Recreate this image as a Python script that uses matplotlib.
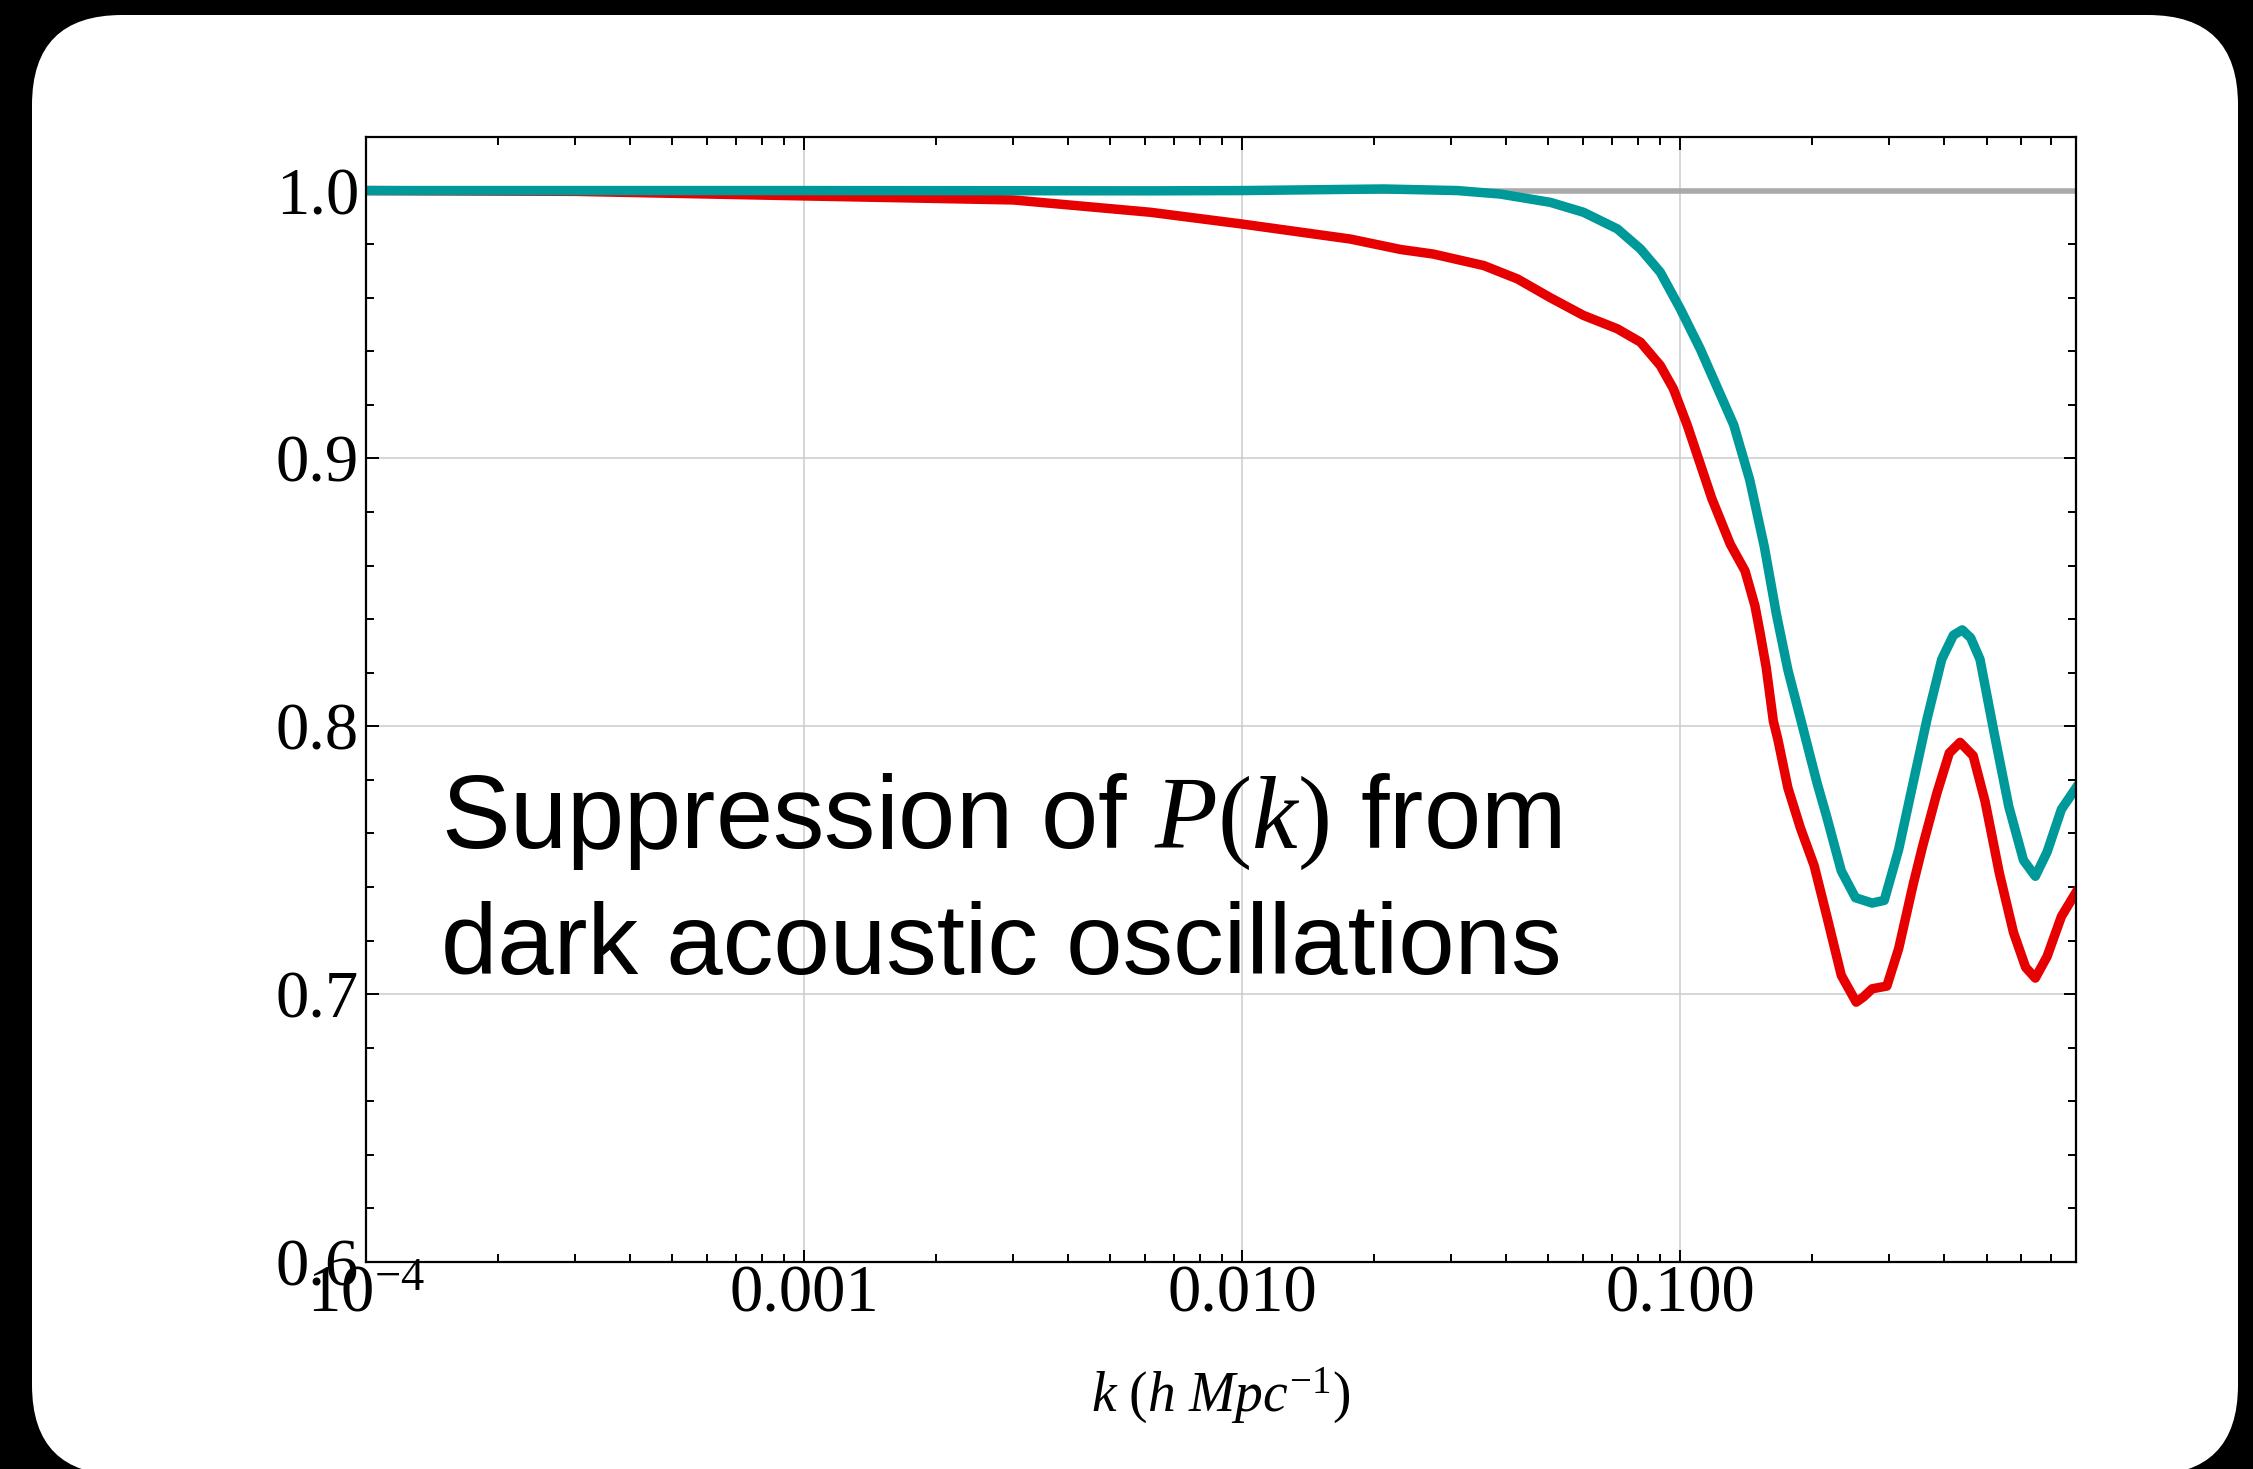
import numpy as np
import matplotlib.pyplot as plt
from matplotlib.patches import FancyBboxPatch
from matplotlib.ticker import LogLocator, MultipleLocator, NullFormatter, FixedLocator

plt.rcParams['mathtext.fontset'] = 'custom'
plt.rcParams['mathtext.rm'] = 'Liberation Serif'
plt.rcParams['mathtext.it'] = 'Liberation Serif:italic'

# values
k_teal = [1e-4, 1e-3, 0.00617, 0.01, 0.021, 0.031, 0.0388, 0.0505, 0.0601, 0.0718,
          0.0811, 0.090, 0.1, 0.111, 0.1324, 0.144, 0.1555, 0.1656, 0.176, 0.19, 0.205,
          0.216, 0.233, 0.251, 0.274, 0.292, 0.315, 0.34, 0.366, 0.395, 0.42, 0.44,
          0.46, 0.483, 0.521, 0.562, 0.607, 0.646, 0.687, 0.741, 0.8]
p_teal = [1.0, 1.0, 0.9999, 1.0, 1.0006, 1.0, 0.9987, 0.9956, 0.9919, 0.9857,
          0.9782, 0.9695, 0.9558, 0.9409, 0.9125, 0.892, 0.867, 0.842, 0.821, 0.800, 0.779,
          0.766, 0.746, 0.736, 0.734, 0.735, 0.754, 0.779, 0.803, 0.825, 0.834, 0.836,
          0.833, 0.825, 0.797, 0.770, 0.750, 0.744, 0.753, 0.769, 0.777]

k_red = [1e-4, 3e-4, 1e-3, 0.003, 0.00617, 0.01, 0.01766, 0.023, 0.0273, 0.0356, 0.0425,
         0.0505, 0.0601, 0.0718, 0.0811, 0.090, 0.0964, 0.1037, 0.118, 0.130,
         0.1405, 0.148, 0.152, 0.157, 0.163, 0.167, 0.176, 0.188, 0.202, 0.216, 0.233,
         0.252, 0.262, 0.274, 0.296, 0.315, 0.34, 0.357, 0.385, 0.411, 0.435, 0.466,
         0.496, 0.535, 0.576, 0.614, 0.646, 0.687, 0.741, 0.8]
p_red = [1.0, 0.9997, 0.998, 0.9965, 0.9919, 0.9875, 0.9819, 0.978, 0.9763, 0.972, 0.967,
         0.960, 0.9534, 0.9484, 0.9434, 0.9347, 0.926, 0.9124, 0.885, 0.868,
         0.858, 0.845, 0.835, 0.822, 0.802, 0.795, 0.777, 0.762, 0.748, 0.729, 0.707,
         0.697, 0.699, 0.702, 0.703, 0.717, 0.741, 0.755, 0.775, 0.790, 0.794, 0.789,
         0.772, 0.745, 0.723, 0.710, 0.706, 0.714, 0.729, 0.738]

xticks = [1e-4, 1e-3, 1e-2, 1e-1]
xticklabels = [r'$\mathregular{10^{-4}}$', '0.001', '0.010', '0.100']
yticks = [0.6, 0.7, 0.8, 0.9, 1.0]
yticklabels = ['0.6', '0.7', '0.8', '0.9', '1.0']

W, H = 2253, 1469
fig = plt.figure(figsize=(W / 100, H / 100), dpi=100, facecolor='black')

# white rounded card on black
bg = fig.add_axes([0, 0, 1, 1], zorder=0)
bg.set_xlim(0, W)
bg.set_ylim(H, 0)
bg.axis('off')
bg.add_patch(FancyBboxPatch((32, 15), 2206, 1460, boxstyle='round,pad=0,rounding_size=90',
                            facecolor='white', edgecolor='none'))

ax = fig.add_axes([366 / W, (H - 1262) / H, 1710 / W, 1125 / H], zorder=1)
ax.set_xscale('log')
ax.set_xlim(1e-4, 0.8)
ax.set_ylim(0.6, 1.02)

ax.xaxis.set_major_locator(FixedLocator(xticks))
ax.set_xticklabels(xticklabels)
ax.xaxis.set_minor_locator(LogLocator(base=10, subs=np.arange(2, 10)))
ax.xaxis.set_minor_formatter(NullFormatter())
ax.set_yticks(yticks)
ax.set_yticklabels(yticklabels)
ax.yaxis.set_minor_locator(MultipleLocator(0.02))

ax.tick_params(which='both', direction='in', top=True, right=True, width=1.4, color='black')
ax.tick_params(which='major', length=9)
ax.tick_params(which='minor', length=5.5)
ax.tick_params(axis='x', pad=2)
ax.tick_params(axis='y', pad=5)
for lab in ax.get_xticklabels() + ax.get_yticklabels():
    lab.set_fontfamily('Liberation Serif')
    lab.set_fontsize(48)
for s in ax.spines.values():
    s.set_linewidth(1.6)

ax.grid(which='major', color='#cccccc', linewidth=1.1)
ax.set_axisbelow(True)

ax.axhline(1.0, color='#aaaaaa', linewidth=4)
ax.plot(k_red, p_red, color='#e60000', linewidth=6.8, solid_joinstyle='round')
ax.plot(k_teal, p_teal, color='#009999', linewidth=6.8, solid_joinstyle='round')

fig.text(1221 / W, 1 - 1412 / H, r'$k\ (h\ Mpc^{-1})$', fontsize=40,
         ha='center', va='baseline')

fig.text(1001 / W, 1 - 848 / H, r'Suppression of $P(k)$ from', fontsize=74,
         family='Liberation Sans', ha='center', va='baseline')
fig.text(1001 / W, 1 - 974 / H, 'dark acoustic oscillations', fontsize=73,
         family='Liberation Sans', ha='center', va='baseline')

fig.savefig('out.png', dpi=100, facecolor='black')
